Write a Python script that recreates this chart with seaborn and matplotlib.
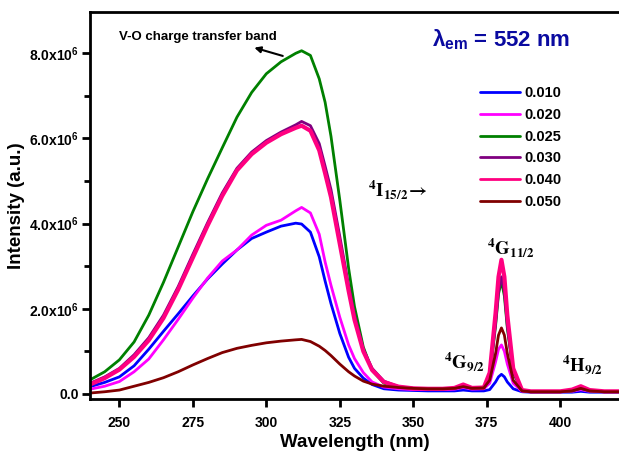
import matplotlib
matplotlib.use('Agg')
import matplotlib.pyplot as plt
import seaborn as sns
import pandas as pd
from matplotlib.ticker import FuncFormatter, MultipleLocator

# Длины волн (нм)
wavelength = [240, 245, 250, 255, 260, 265, 270, 275, 280, 285, 290, 295, 300, 305, 310,
              312, 315, 318, 320, 322, 325, 328, 330, 333, 336, 340, 345, 350, 355, 360,
              364, 367, 370, 374, 376, 378, 379, 380, 381, 382, 384, 387, 390, 395, 400,
              404, 407, 410, 415, 420]

# Интенсивность, x10^6
int_010 = [0.17, 0.27, 0.40, 0.66, 1.05, 1.47, 1.88, 2.30, 2.70, 3.05, 3.38, 3.65, 3.80, 3.94, 4.01,
           3.99, 3.80, 3.22, 2.65, 2.12, 1.42, 0.86, 0.60, 0.37, 0.22, 0.12, 0.09, 0.08, 0.07, 0.07,
           0.07, 0.09, 0.07, 0.07, 0.10, 0.28, 0.40, 0.46, 0.40, 0.28, 0.12, 0.05, 0.04, 0.04, 0.04,
           0.04, 0.06, 0.04, 0.04, 0.04]
int_020 = [0.11, 0.18, 0.29, 0.52, 0.82, 1.27, 1.75, 2.25, 2.72, 3.12, 3.38, 3.73, 3.96, 4.08, 4.30,
           4.38, 4.25, 3.75, 3.10, 2.55, 1.80, 1.15, 0.83, 0.50, 0.28, 0.16, 0.12, 0.10, 0.10, 0.10,
           0.11, 0.15, 0.11, 0.12, 0.25, 0.75, 1.05, 1.15, 1.00, 0.70, 0.25, 0.06, 0.05, 0.05, 0.05,
           0.06, 0.10, 0.06, 0.05, 0.05]
int_025 = [0.33, 0.52, 0.80, 1.22, 1.85, 2.62, 3.45, 4.28, 5.05, 5.78, 6.50, 7.08, 7.52, 7.80, 8.00,
           8.06, 7.95, 7.40, 6.85, 6.05, 4.55, 2.95, 2.05, 1.10, 0.55, 0.25, 0.16, 0.13, 0.12, 0.12,
           0.13, 0.18, 0.13, 0.14, 0.40, 1.60, 2.35, 2.65, 2.30, 1.55, 0.50, 0.08, 0.05, 0.05, 0.05,
           0.07, 0.13, 0.07, 0.05, 0.05]
int_030 = [0.25, 0.40, 0.60, 0.92, 1.32, 1.85, 2.52, 3.28, 4.02, 4.72, 5.30, 5.68, 5.95, 6.15, 6.32,
           6.40, 6.30, 5.88, 5.35, 4.80, 3.70, 2.55, 1.85, 1.05, 0.60, 0.30, 0.17, 0.13, 0.12, 0.12,
           0.13, 0.19, 0.13, 0.14, 0.42, 1.65, 2.40, 2.75, 2.40, 1.60, 0.52, 0.08, 0.05, 0.05, 0.05,
           0.08, 0.15, 0.08, 0.05, 0.05]
int_040 = [0.22, 0.37, 0.57, 0.87, 1.26, 1.78, 2.45, 3.20, 3.95, 4.65, 5.25, 5.63, 5.90, 6.10, 6.25,
           6.30, 6.18, 5.72, 5.18, 4.62, 3.52, 2.42, 1.74, 1.00, 0.56, 0.28, 0.17, 0.13, 0.12, 0.12,
           0.14, 0.22, 0.14, 0.15, 0.50, 1.90, 2.75, 3.15, 2.75, 1.85, 0.60, 0.09, 0.06, 0.06, 0.06,
           0.10, 0.18, 0.09, 0.06, 0.06]
int_050 = [0.02, 0.05, 0.09, 0.18, 0.27, 0.38, 0.52, 0.68, 0.83, 0.97, 1.07, 1.14, 1.20, 1.24, 1.27,
           1.28, 1.23, 1.12, 1.02, 0.90, 0.70, 0.52, 0.42, 0.30, 0.23, 0.18, 0.15, 0.13, 0.12, 0.12,
           0.13, 0.17, 0.13, 0.14, 0.32, 0.95, 1.38, 1.55, 1.38, 0.95, 0.32, 0.07, 0.05, 0.05, 0.05,
           0.07, 0.13, 0.07, 0.05, 0.05]

labels = ['0.010', '0.020', '0.025', '0.030', '0.040', '0.050']
series = [int_010, int_020, int_025, int_030, int_040, int_050]
colors = ['#0000ff', '#ff00ff', '#008000', '#800080', '#ff0080', '#800000']
widths = [2.0, 2.0, 2.0, 2.0, 3.0, 2.0]

sns.set_style('ticks')
plt.rcParams['font.family'] = ['Liberation Sans', 'DejaVu Sans']
plt.rcParams['font.weight'] = 'bold'
plt.rcParams['text.color'] = 'black'
plt.rcParams['axes.labelcolor'] = 'black'
plt.rcParams['xtick.color'] = 'black'
plt.rcParams['ytick.color'] = 'black'
plt.rcParams['mathtext.fontset'] = 'custom'
plt.rcParams['mathtext.rm'] = 'Liberation Sans:bold'
plt.rcParams['mathtext.it'] = 'Liberation Sans:bold'
plt.rcParams['mathtext.bf'] = 'Liberation Sans:bold'

fig = plt.figure(figsize=(6.19, 4.53), dpi=100)
ax = fig.add_axes([0.1454, 0.1192, 0.8546, 0.8543])

for lab, vals, col, lw in zip(labels, series, colors, widths):
    df = pd.DataFrame({'wl': wavelength, 'I': [v * 1e6 for v in vals]})
    sns.lineplot(data=df, x='wl', y='I', color=col, lw=lw, label=lab, ax=ax)

ax.set_xlim(240, 420)
ax.set_ylim(-0.12e6, 8.97e6)
ax.xaxis.set_major_locator(MultipleLocator(25))
ax.yaxis.set_major_locator(MultipleLocator(2e6))
ax.yaxis.set_minor_locator(MultipleLocator(1e6))


def fmt(v, pos):
    if abs(v) < 1:
        return '0.0'
    return f'{v / 1e6:.1f}x10$^{{6}}$'


ax.yaxis.set_major_formatter(FuncFormatter(fmt))

for s in ['left', 'bottom', 'top']:
    ax.spines[s].set_linewidth(2.0)
    ax.spines[s].set_color('black')
ax.spines['right'].set_visible(False)
ax.tick_params(axis='both', which='major', length=6, width=2, labelsize=10, direction='out',
               color='black', labelcolor='black')
ax.tick_params(axis='x', which='major', pad=6)
ax.tick_params(axis='y', which='major', pad=2)
ax.tick_params(axis='y', which='minor', length=4, width=2, direction='out', color='black')
ax.tick_params(axis='x', which='minor', length=0)
for t in ax.get_xticklabels() + ax.get_yticklabels():
    t.set_fontweight('bold')

ax.set_xlabel('Wavelength (nm)', fontsize=13.5, fontweight='bold', labelpad=3, color='black')
ax.set_ylabel('Intensity (a.u.)', fontsize=13.5, fontweight='bold', labelpad=3, color='black')

leg = ax.legend(loc='upper left', bbox_to_anchor=(0.737, 0.808), frameon=False,
                prop={'size': 10.5, 'weight': 'bold'}, handlelength=2.75,
                handletextpad=0.3, labelspacing=0.53, borderpad=0, borderaxespad=0)
for line in leg.get_lines():
    line.set_linewidth(2.0)
for t in leg.get_texts():
    t.set_color('black')

# Подписи
ax.text(250, 8.38e6, 'V-O charge transfer band', fontsize=9.5, fontweight='bold', va='center', ha='left')
ax.annotate('', xy=(295, 8.15e6), xytext=(306.5, 7.92e6),
            arrowprops=dict(arrowstyle='-|>', color='black', lw=1.5, mutation_scale=9))
ax.text(356.5, 8.33e6, r'λ$_{em}$ = 552 nm', fontsize=16, fontweight='bold', color='#0a0aa0',
        va='center', ha='left')

term_kw = dict(fontsize=13.5, math_fontfamily='stix', ha='left', va='center', color='black')
ax.text(334.5, 4.8e6, r'$^{\mathbf{4}}\mathbf{I}_{\mathbf{15/2}}\!\rightarrow$', **term_kw)
ax.text(375, 3.45e6, r'$^{\mathbf{4}}\mathbf{G}_{\mathbf{11/2}}$', **term_kw)
ax.text(360.3, 0.75e6, r'$^{\mathbf{4}}\mathbf{G}_{\mathbf{9/2}}$', **term_kw)
ax.text(400.5, 0.68e6, r'$^{\mathbf{4}}\mathbf{H}_{\mathbf{9/2}}$', **term_kw)

fig.savefig('out.png', dpi=100)
